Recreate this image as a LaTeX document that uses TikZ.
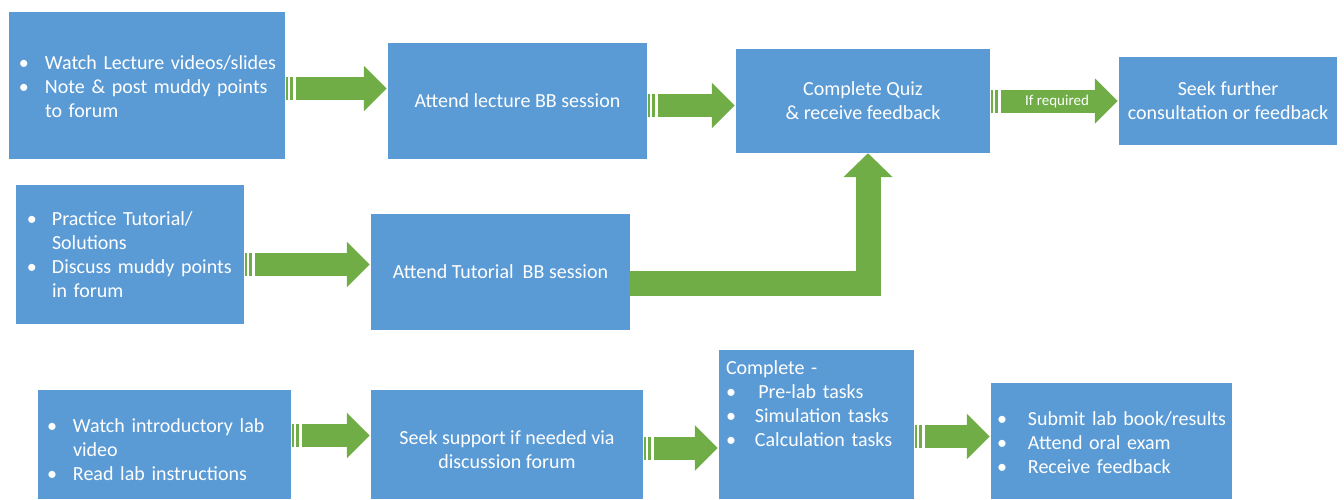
\documentclass[tikz,border=0pt]{standalone}
\usepackage{fontspec}
\setmainfont{Carlito}
\usetikzlibrary{arrows.meta,calc}
\definecolor{boxblue}{HTML}{5B9BD5}
\definecolor{arrowgreen}{HTML}{70AD47}

\tikzset{
  box/.style={fill=boxblue, text=white, inner sep=0pt, font=\fontsize{20}{24}\selectfont},
  fatarrow/.style={draw=arrowgreen, line width=23pt, -{Triangle[length=23pt,width=44pt]}}
}

% bullet line with hanging indent
\newcommand{\bitem}[2][26pt]{\par\noindent\hangindent=#1\hangafter=1\makebox[#1][l]{\textbullet}#2\par}

% striped block arrow from #1 to #2 at height #3
\newcommand{\stripedarrow}[3]{%
  \coordinate (s) at (#1 |- 0,#3);
  \coordinate (t) at (#2 |- 0,#3);
  \fill[arrowgreen] ($(s)+(1,-11.5)$) rectangle ++(2,23);
  \fill[arrowgreen] ($(s)+(4.5,-11.5)$) rectangle ++(3,23);
  \draw[fatarrow] ($(s)+(11,0)$) -- ($(t)+(-1,0)$);}

\begin{document}
\begin{tikzpicture}[x=1pt,y=-1pt]
\useasboundingbox (0,0) rectangle (1344,499);

% lecture row
\node[box, minimum width=276pt, minimum height=147pt, text width=256pt, align=left] (lect) at (147,85.5)
  {\vspace*{-8pt}\bitem{\mbox{Watch Lecture videos/slides}}\bitem{\mbox{Note \& post muddy points}\newline to forum}};
\node[box, minimum width=259pt, minimum height=116pt] (lectbb) at (517.5,101) {Attend lecture BB session};
\node[box, minimum width=254pt, minimum height=104pt, align=center] (quiz) at (863,101) {Complete Quiz\\\& receive feedback};
\node[box, minimum width=218pt, minimum height=88pt, align=center] (further) at (1228,101) {Seek further\\consultation or feedback};

% tutorial row
\node[box, minimum width=228pt, minimum height=139pt, text width=206pt, align=left] (tut) at (130,254.5)
  {\vspace*{-9pt}\bitem[25pt]{\mbox{Practice Tutorial/}\newline Solutions}\bitem[25pt]{\mbox{Discuss muddy points}\newline in forum}};
\node[box, minimum width=259pt, minimum height=116pt] (tutbb) at (500.5,272) {Attend Tutorial\ \ BB session};

% lab row
\node[box, minimum width=253pt, minimum height=109pt, text width=235pt, align=left] (labvid) at (164.5,444.5)
  {\bitem{\mbox{Watch introductory lab}\newline video}\bitem{\mbox{Read lab instructions}}};
\node[box, minimum width=272pt, minimum height=109pt] (support) at (507,444.5) {};
\node[box, fill=none, align=center] (supporttxt) at ($(support.center)+(0,5)$) {Seek support if needed via\\discussion forum};
\node[box, minimum width=195pt, minimum height=149pt] (labtasks) at (816.5,424.5) {};
\node[box, fill=none, text width=181pt, align=left, anchor=north west] (labtxt) at ($(labtasks.north west)+(7,11)$)
  {Complete -\bitem[29pt]{\,Pre-lab tasks}\bitem[29pt]{Simulation tasks}\bitem[29pt]{Calculation tasks}};
\node[box, minimum width=241pt, minimum height=116pt, text width=229pt, align=left] (submit) at (1111.5,441)
  {\vspace*{-6pt}\bitem[31pt]{\mbox{Submit lab book/results}}\bitem[31pt]{Attend oral exam}\bitem[31pt]{Receive feedback}};

% arrows
\stripedarrow{lect.east}{lectbb.west}{88.5}
\stripedarrow{lectbb.east}{quiz.west}{105.5}
\stripedarrow{quiz.east}{further.west}{101}
\stripedarrow{tut.east}{tutbb.west}{264.5}
\stripedarrow{labvid.east}{support.west}{435.5}
\stripedarrow{support.east}{labtasks.west}{448}
\stripedarrow{labtasks.east}{submit.west}{436.5}
\draw[fatarrow, line width=25pt, -{Triangle[length=24pt,width=48pt]}] (tutbb.east |- 0,283.5) -| (quiz.south -| 868,0);
\node[text=white, font=\fontsize{15}{18}\selectfont] (req) at ($(quiz.east)!.5!(further.west)+(2.5,0)$) {If required};
\end{tikzpicture}
\end{document}
